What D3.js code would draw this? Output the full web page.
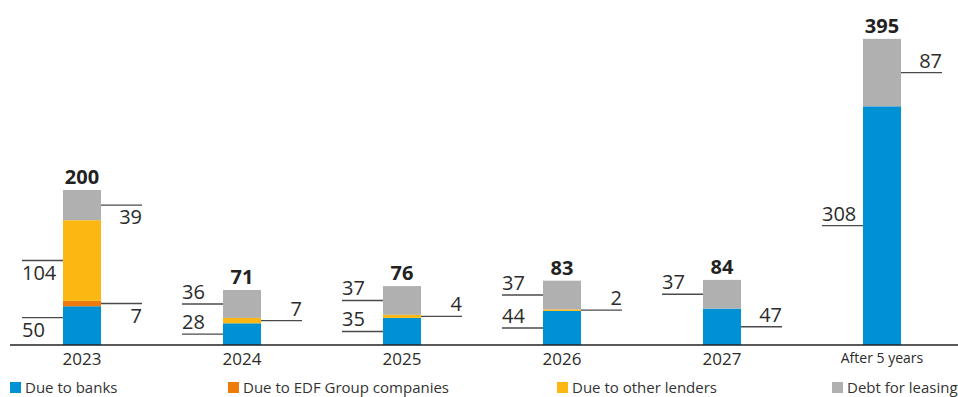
<!DOCTYPE html>
<html>
<head>
<meta charset="utf-8">
<script src="https://cdn.jsdelivr.net/npm/d3@7"></script>
<style>
  html, body { margin: 0; padding: 0; background: #fff; }
  svg { display: block; font-family: "Open Sans", "DejaVu Sans", sans-serif; }
</style>
</head>
<body>
<svg id="chart" width="958" height="397"></svg>
<script>
// Maturity buckets and amounts per financing source
const categories = ["2023", "2024", "2025", "2026", "2027", "After 5 years"];
const seriesNames = ["Due to banks", "Due to EDF Group companies", "Due to other lenders", "Debt for leasing"];
const dueToBanks = [50, 28, 35, 44, 47, 308];
const dueToEdfGroup = [7, 0, 0, 0, 0, 0];
const dueToOtherLenders = [104, 7, 4, 2, 0, 0];
const debtForLeasing = [39, 36, 37, 37, 37, 87];

const seriesKeys = ["banks", "edf", "other", "leasing"];
const seriesColors = ["#0091d4", "#ee7a0b", "#fcb712", "#b0b0b0"];

// Label placement for each stacked segment: which side of the bar the
// leader line goes, whether the number sits above or below it, and a nudge.
const labelSide = {
  "2023": { banks: ["L", "below", -8], edf: ["R", "below", 0], other: ["L", "below", 0], leasing: ["R", "below", 0] },
  "2024": { banks: ["L", "above", 0], other: ["R", "above", 0], leasing: ["L", "above", 0] },
  "2025": { banks: ["L", "above", 0], other: ["R", "above", 0], leasing: ["L", "above", 0] },
  "2026": { banks: ["L", "above", 0], other: ["R", "above", 0], leasing: ["L", "above", 0] },
  "2027": { banks: ["R", "above", 0], leasing: ["L", "above", 0] },
  "After 5 years": { banks: ["L", "above", 0], leasing: ["R", "above", 0] }
};

const rows = categories.map((c, i) => ({
  category: c,
  banks: dueToBanks[i],
  edf: dueToEdfGroup[i],
  other: dueToOtherLenders[i],
  leasing: debtForLeasing[i]
}));

const svg = d3.select("#chart");
const baseY = 345;

const x = d3.scaleBand()
  .domain(categories)
  .range([2, 962])
  .paddingInner(0.7625)
  .paddingOuter(0.38125);

const y = d3.scaleLinear()
  .domain([0, 400])
  .range([baseY, 35]);

const stack = d3.stack().keys(seriesKeys);
const stacked = stack(rows);

// Bars
const layers = svg.append("g").selectAll("g")
  .data(stacked)
  .join("g")
  .attr("fill", (d, i) => seriesColors[i]);

layers.selectAll("rect")
  .data(d => d.map(p => ({ p, key: d.key })))
  .join("rect")
  .filter(d => d.p[1] - d.p[0] > 0)
  .attr("x", d => x(d.p.data.category))
  .attr("y", d => y(d.p[1]))
  .attr("width", x.bandwidth())
  .attr("height", d => y(d.p[0]) - y(d.p[1]));

// Leader lines and segment values
const lineLen = 41;
const labels = [];
stacked.forEach(layer => {
  layer.forEach(p => {
    const cat = p.data.category;
    const v = p[1] - p[0];
    const spec = labelSide[cat][layer.key];
    if (!v || !spec) return;
    const ly = y((p[0] + p[1]) / 2) + spec[2];
    const left = spec[0] === "L";
    const x0 = left ? x(cat) - lineLen : x(cat) + x.bandwidth();
    labels.push({ v, ly, left, x0, above: spec[1] === "above" });
  });
});

const lg = svg.append("g");
lg.selectAll("line")
  .data(labels)
  .join("line")
  .attr("x1", d => d.x0)
  .attr("x2", d => d.x0 + lineLen)
  .attr("y1", d => d.ly)
  .attr("y2", d => d.ly)
  .attr("stroke", "#4a4a4a")
  .attr("stroke-width", 1.4);

lg.selectAll("text")
  .data(labels)
  .join("text")
  .attr("x", d => d.left ? d.x0 : d.x0 + lineLen)
  .attr("y", d => d.above ? d.ly - 5 : d.ly + 19)
  .attr("text-anchor", d => d.left ? "start" : "end")
  .attr("font-size", 20)
  .attr("fill", "#2b2b2b")
  .text(d => d.v);

// Totals above each bar
svg.append("g").selectAll("text")
  .data(rows)
  .join("text")
  .attr("x", d => x(d.category) + x.bandwidth() / 2)
  .attr("y", d => y(d.banks + d.edf + d.other + d.leasing) - 6)
  .attr("text-anchor", "middle")
  .attr("font-size", 20)
  .attr("font-weight", 700)
  .attr("fill", "#222")
  .text(d => d.banks + d.edf + d.other + d.leasing);

// Category axis
const axis = svg.append("g")
  .attr("transform", `translate(0,${baseY})`)
  .call(d3.axisBottom(x).tickSize(0).tickPadding(8));
axis.select(".domain").remove();
axis.selectAll("text")
  .attr("font-family", "Open Sans, DejaVu Sans, sans-serif")
  .attr("font-size", d => d === "After 5 years" ? 14 : 17)
  .attr("fill", "#2b2b2b");

svg.append("line")
  .attr("x1", 10).attr("x2", 958)
  .attr("y1", baseY).attr("y2", baseY)
  .attr("stroke", "#222")
  .attr("stroke-width", 1.3);

// Legend
const legendX = [10, 228, 557, 832];
const legend = svg.append("g").selectAll("g")
  .data(seriesNames)
  .join("g")
  .attr("transform", (d, i) => `translate(${legendX[i]},382)`);
legend.append("rect")
  .attr("width", 11).attr("height", 11)
  .attr("fill", (d, i) => seriesColors[i]);
legend.append("text")
  .attr("x", 15).attr("y", 11)
  .attr("font-size", 15)
  .attr("fill", "#333")
  .text(d => d);
</script>
</body>
</html>
